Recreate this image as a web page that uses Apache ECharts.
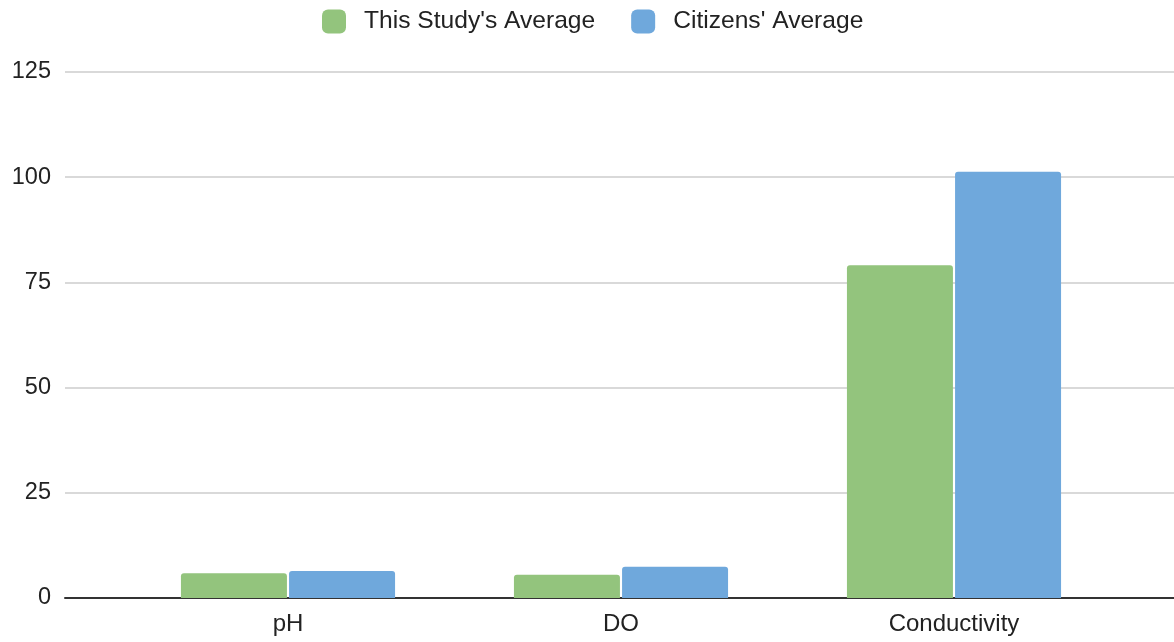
<!DOCTYPE html>
<html><head><meta charset="utf-8">
<script src="https://cdn.jsdelivr.net/npm/echarts@6/dist/echarts.min.js"></script>
<style>html,body{margin:0;padding:0;background:#fff}#c{width:1174px;height:642px}</style>
</head><body><div id="c"></div>
<script>
const categories = ["pH", "DO", "Conductivity"];
const studyAvg = [5.9, 5.5, 79.1];
const citizensAvg = [6.4, 7.4, 101.3];
const seriesNames = ["This Study's Average", "Citizens' Average"];
const yTicks = {min: 0, max: 125, interval: 25};

const font = '"Liberation Sans", Arial, sans-serif';
const chart = echarts.init(document.getElementById('c'));
chart.setOption({
  animation: false,
  backgroundColor: '#fff',
  legend: {
    top: 4, left: 317,
    itemWidth: 24, itemHeight: 24, itemGap: 36,
    icon: 'roundRect',
    textStyle: {fontFamily: font, fontSize: 24.6, color: '#222', padding: [0, 0, 0, 13]},
    data: seriesNames
  },
  grid: [
    {left: 65, right: 0, top: 72, bottom: 44},
    {left: 121.5, right: 53.5, top: 72, bottom: 44}
  ],
  xAxis: [
    {gridIndex: 0, type: 'value', min: 0, max: 1, axisLine: {show: true, onZero: false, lineStyle: {color: '#333', width: 2}},
     axisTick: {show: false}, axisLabel: {show: false}, splitLine: {show: false}},
    {gridIndex: 1, type: 'category', data: categories, axisLine: {show: false}, axisTick: {show: false},
     axisLabel: {fontFamily: font, fontSize: 24, color: '#222', margin: 14}}
  ],
  yAxis: [
    {gridIndex: 0, type: 'value', min: yTicks.min, max: yTicks.max, interval: yTicks.interval,
     axisLine: {show: false}, axisTick: {show: false},
     axisLabel: {fontFamily: font, fontSize: 23.5, color: '#222', margin: 14},
     splitLine: {lineStyle: {color: '#cccccc', width: 1.5}}},
    {gridIndex: 1, type: 'value', min: yTicks.min, max: yTicks.max, interval: yTicks.interval,
     show: false}
  ],
  series: [
    {name: seriesNames[0], type: 'bar', xAxisIndex: 1, yAxisIndex: 1, data: studyAvg,
     barWidth: 106, barGap: '2%', itemStyle: {color: '#93c47d', borderRadius: [3, 3, 0, 0]}},
    {name: seriesNames[1], type: 'bar', xAxisIndex: 1, yAxisIndex: 1, data: citizensAvg,
     barWidth: 106, barGap: '2%', itemStyle: {color: '#6fa8dc', borderRadius: [3, 3, 0, 0]}}
  ]
});
</script></body></html>
